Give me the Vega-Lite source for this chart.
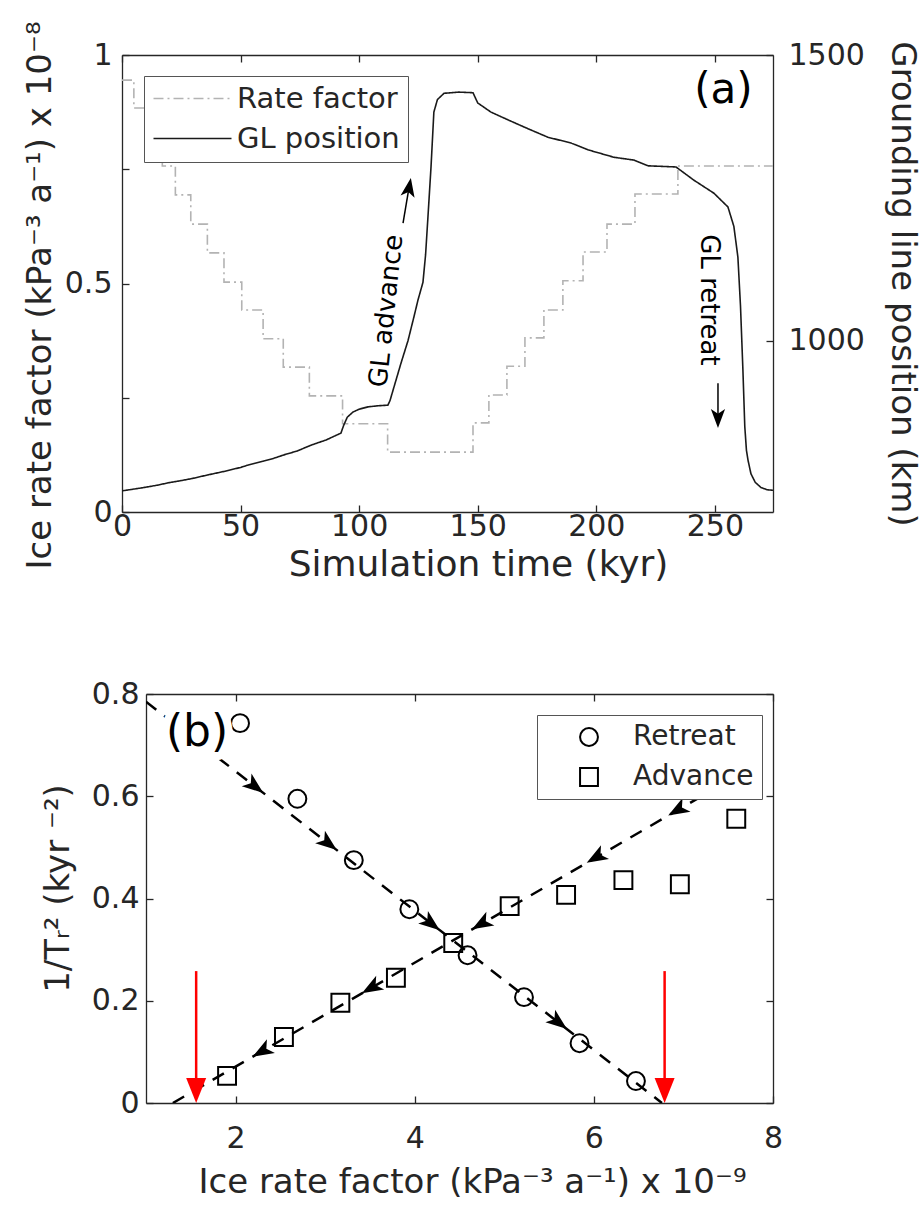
{
  "$schema": "https://vega.github.io/schema/vega-lite/v6.json",
  "background": "white",
  "padding": {"left": 23, "top": 15, "right": 30, "bottom": 2},
  "config": {
    "font": "DejaVu Sans",
    "view": {"stroke": null},
    "axis": {
      "labelFont": "DejaVu Sans", "titleFont": "DejaVu Sans",
      "labelFontSize": 30, "titleFontSize": 34,
      "labelColor": "#262626", "titleColor": "#262626", "titleFontWeight": "normal",
      "grid": false, "domainColor": "#262626", "domainWidth": 1.3,
      "tickColor": "#262626", "tickWidth": 1.3, "tickSize": -7,
      "labelFlush": false, "labelOverlap": false
    },
    "legend": {"labelFont": "DejaVu Sans", "labelColor": "#262626", "labelLimit": 400},
    "text": {"font": "DejaVu Sans"}
  },
  "datasets": {
    "rate": [
      {"series": "Rate factor", "t": 0, "rate": 0.945},
      {"series": "Rate factor", "t": 5, "rate": 0.884},
      {"series": "Rate factor", "t": 11, "rate": 0.820},
      {"series": "Rate factor", "t": 17, "rate": 0.757},
      {"series": "Rate factor", "t": 22.5, "rate": 0.694},
      {"series": "Rate factor", "t": 29, "rate": 0.630},
      {"series": "Rate factor", "t": 36, "rate": 0.567},
      {"series": "Rate factor", "t": 43, "rate": 0.503},
      {"series": "Rate factor", "t": 50.5, "rate": 0.442},
      {"series": "Rate factor", "t": 59.5, "rate": 0.379},
      {"series": "Rate factor", "t": 68, "rate": 0.317},
      {"series": "Rate factor", "t": 79, "rate": 0.254},
      {"series": "Rate factor", "t": 93, "rate": 0.193},
      {"series": "Rate factor", "t": 112, "rate": 0.131},
      {"series": "Rate factor", "t": 148, "rate": 0.195},
      {"series": "Rate factor", "t": 154.7, "rate": 0.256},
      {"series": "Rate factor", "t": 162.3, "rate": 0.319},
      {"series": "Rate factor", "t": 169.9, "rate": 0.381},
      {"series": "Rate factor", "t": 177.9, "rate": 0.442},
      {"series": "Rate factor", "t": 185.9, "rate": 0.506},
      {"series": "Rate factor", "t": 194.4, "rate": 0.569},
      {"series": "Rate factor", "t": 204.5, "rate": 0.630},
      {"series": "Rate factor", "t": 216.3, "rate": 0.696},
      {"series": "Rate factor", "t": 234.4, "rate": 0.757},
      {"series": "Rate factor", "t": 274.5, "rate": 0.757}
    ],
    "gl": [
      {"series": "GL position", "t": 0, "km": 737},
      {"series": "GL position", "t": 8, "km": 742},
      {"series": "GL position", "t": 15, "km": 747},
      {"series": "GL position", "t": 19.4, "km": 751},
      {"series": "GL position", "t": 25, "km": 755},
      {"series": "GL position", "t": 30, "km": 759},
      {"series": "GL position", "t": 36.3, "km": 765},
      {"series": "GL position", "t": 43, "km": 771},
      {"series": "GL position", "t": 50, "km": 778},
      {"series": "GL position", "t": 53, "km": 782},
      {"series": "GL position", "t": 59.5, "km": 789},
      {"series": "GL position", "t": 64, "km": 794},
      {"series": "GL position", "t": 68.3, "km": 800},
      {"series": "GL position", "t": 74, "km": 807},
      {"series": "GL position", "t": 79.7, "km": 817},
      {"series": "GL position", "t": 86, "km": 826},
      {"series": "GL position", "t": 92.3, "km": 838},
      {"series": "GL position", "t": 93.5, "km": 852},
      {"series": "GL position", "t": 95, "km": 866},
      {"series": "GL position", "t": 97.4, "km": 875},
      {"series": "GL position", "t": 100, "km": 880},
      {"series": "GL position", "t": 103.7, "km": 884},
      {"series": "GL position", "t": 108, "km": 886},
      {"series": "GL position", "t": 112.1, "km": 887},
      {"series": "GL position", "t": 113, "km": 895},
      {"series": "GL position", "t": 114.7, "km": 919},
      {"series": "GL position", "t": 117.6, "km": 960},
      {"series": "GL position", "t": 120.6, "km": 1000},
      {"series": "GL position", "t": 123, "km": 1040},
      {"series": "GL position", "t": 124.8, "km": 1071},
      {"series": "GL position", "t": 126.9, "km": 1102},
      {"series": "GL position", "t": 128, "km": 1150},
      {"series": "GL position", "t": 129, "km": 1216},
      {"series": "GL position", "t": 130.3, "km": 1304},
      {"series": "GL position", "t": 131.5, "km": 1400},
      {"series": "GL position", "t": 133, "km": 1422},
      {"series": "GL position", "t": 135.8, "km": 1433},
      {"series": "GL position", "t": 142, "km": 1435},
      {"series": "GL position", "t": 148, "km": 1434},
      {"series": "GL position", "t": 150, "km": 1416},
      {"series": "GL position", "t": 155.6, "km": 1400},
      {"series": "GL position", "t": 163, "km": 1386},
      {"series": "GL position", "t": 169.5, "km": 1374},
      {"series": "GL position", "t": 179.6, "km": 1356},
      {"series": "GL position", "t": 189.3, "km": 1346},
      {"series": "GL position", "t": 196.5, "km": 1334},
      {"series": "GL position", "t": 207.4, "km": 1321},
      {"series": "GL position", "t": 215.9, "km": 1316},
      {"series": "GL position", "t": 221.8, "km": 1306},
      {"series": "GL position", "t": 233.6, "km": 1304},
      {"series": "GL position", "t": 241.1, "km": 1281},
      {"series": "GL position", "t": 249.6, "km": 1258},
      {"series": "GL position", "t": 255.5, "km": 1234},
      {"series": "GL position", "t": 258, "km": 1200},
      {"series": "GL position", "t": 259.7, "km": 1146},
      {"series": "GL position", "t": 260.8, "km": 1060},
      {"series": "GL position", "t": 261.8, "km": 950},
      {"series": "GL position", "t": 262.6, "km": 850},
      {"series": "GL position", "t": 263.3, "km": 808},
      {"series": "GL position", "t": 264, "km": 790},
      {"series": "GL position", "t": 265.2, "km": 767},
      {"series": "GL position", "t": 267, "km": 752},
      {"series": "GL position", "t": 269.4, "km": 743},
      {"series": "GL position", "t": 272, "km": 739},
      {"series": "GL position", "t": 274.5, "km": 738}
    ],
    "pts": [
      {"type": "Retreat", "x": 2.05, "y": 0.743},
      {"type": "Retreat", "x": 2.69, "y": 0.595},
      {"type": "Retreat", "x": 3.32, "y": 0.475},
      {"type": "Retreat", "x": 3.94, "y": 0.379},
      {"type": "Retreat", "x": 4.59, "y": 0.289},
      {"type": "Retreat", "x": 5.22, "y": 0.207},
      {"type": "Retreat", "x": 5.84, "y": 0.117},
      {"type": "Retreat", "x": 6.47, "y": 0.043},
      {"type": "Advance", "x": 1.905, "y": 0.053},
      {"type": "Advance", "x": 2.54, "y": 0.129},
      {"type": "Advance", "x": 3.17, "y": 0.196},
      {"type": "Advance", "x": 3.79, "y": 0.245},
      {"type": "Advance", "x": 4.43, "y": 0.313},
      {"type": "Advance", "x": 5.06, "y": 0.385},
      {"type": "Advance", "x": 5.69, "y": 0.407},
      {"type": "Advance", "x": 6.33, "y": 0.436},
      {"type": "Advance", "x": 6.96, "y": 0.428},
      {"type": "Advance", "x": 7.59, "y": 0.556}
    ],
    "fits": [
      {"line": "retreat", "x": 1.0, "y": 0.785},
      {"line": "retreat", "x": 6.76, "y": 0},
      {"line": "advance", "x": 1.30, "y": 0},
      {"line": "advance", "x": 7.96, "y": 0.677}
    ],
    "arrowsR": [
      {"x": 2.31, "y": 0.6065},
      {"x": 3.13, "y": 0.4947},
      {"x": 4.28, "y": 0.338},
      {"x": 5.70, "y": 0.1445}
    ],
    "arrowsA": [
      {"x": 6.83, "y": 0.5624},
      {"x": 5.92, "y": 0.4699},
      {"x": 4.64, "y": 0.3397},
      {"x": 3.41, "y": 0.2146},
      {"x": 2.19, "y": 0.0905}
    ],
    "red": [
      {"x": 1.56, "y1": 0.258, "y2": 0.03, "tip": 0},
      {"x": 6.79, "y1": 0.258, "y2": 0.03, "tip": 0}
    ],
    "notesA": [
      {"key": "a", "t": 253.6, "v": 0.923, "label": "(a)"},
      {"key": "adv", "t": 111.5, "v": 0.44, "label": "GL advance"},
      {"key": "ret", "t": 247.5, "v": 0.464, "label": "GL retreat"}
    ],
    "labelB": [
      {"x": 1.57, "y": 0.724, "label": "(b)"}
    ]
  },
  "vconcat": [
    {
      "width": 651,
      "height": 457,
      "layer": [
        {
          "data": {"name": "rate"},
          "mark": {"type": "line", "interpolate": "step-after", "strokeWidth": 1.6, "clip": true},
          "encoding": {
            "x": {"field": "t", "type": "quantitative", "scale": {"domain": [0, 274.5], "nice": false, "zero": false},
              "axis": {"orient": "bottom", "values": [0, 50, 100, 150, 200, 250], "format": "d", "title": "Simulation time (kyr)", "titleFontSize": 36, "titleX": 356, "labelPadding": 6, "titlePadding": 6}},
            "y": {"field": "rate", "type": "quantitative", "scale": {"domain": [0, 1], "nice": false},
              "axis": {"orient": "left", "values": [0, 0.25, 0.5, 0.75, 1], "format": "~g", "labelExpr": "datum.value == 0.25 || datum.value == 0.75 ? '' : datum.label", "title": "Ice rate factor (kPa⁻³ a⁻¹)  x 10⁻⁸", "labelPadding": 17, "titlePadding": 7, "titleY": 240}},
            "color": {"field": "series", "type": "nominal", "scale": {"domain": ["Rate factor", "GL position"], "range": ["#b3b3b3", "#1a1a1a"]},
              "legend": {"title": null, "orient": "none", "legendX": 22, "legendY": 21, "symbolType": "M-3,0L3,0", "symbolSize": 676, "symbolStrokeWidth": 1.5, "symbolOffset": 26, "labelFontSize": 29, "labelOffset": 30, "labelLimit": 400, "padding": 8, "rowPadding": 10, "strokeColor": "#555555", "fillColor": "white"}},
            "strokeDash": {"field": "series", "type": "nominal", "scale": {"domain": ["Rate factor", "GL position"], "range": [[10, 4, 2, 4], [1, 0]]},
              "legend": {"title": null, "orient": "none", "legendX": 22, "legendY": 21, "symbolType": "M-3,0L3,0", "symbolSize": 676, "symbolStrokeWidth": 1.5, "symbolOffset": 26, "labelFontSize": 29, "labelOffset": 30, "labelLimit": 400, "padding": 8, "rowPadding": 10, "strokeColor": "#555555", "fillColor": "white"}}
          }
        },
        {
          "data": {"name": "gl"},
          "mark": {"type": "line", "strokeWidth": 1.6, "clip": true},
          "encoding": {
            "x": {"field": "t", "type": "quantitative", "scale": {"domain": [0, 274.5], "nice": false, "zero": false},
              "axis": {"orient": "top", "values": [0, 50, 100, 150, 200, 250], "labels": false, "title": null}},
            "y": {"field": "km", "type": "quantitative", "scale": {"domain": [700, 1500], "nice": false, "zero": false},
              "axis": {"orient": "right", "values": [1000, 1500], "format": "d", "title": "Grounding line position (km)", "titleFontSize": 34, "labelPadding": 22, "titlePadding": 20}},
            "color": {"field": "series", "type": "nominal", "scale": {"domain": ["Rate factor", "GL position"], "range": ["#b3b3b3", "#1a1a1a"]},
              "legend": {"title": null, "orient": "none", "legendX": 22, "legendY": 21, "symbolType": "M-3,0L3,0", "symbolSize": 676, "symbolStrokeWidth": 1.5, "symbolOffset": 26, "labelFontSize": 29, "labelOffset": 30, "labelLimit": 400, "padding": 8, "rowPadding": 10, "strokeColor": "#555555", "fillColor": "white"}},
            "strokeDash": {"field": "series", "type": "nominal", "scale": {"domain": ["Rate factor", "GL position"], "range": [[10, 4, 2, 4], [1, 0]]},
              "legend": {"title": null, "orient": "none", "legendX": 22, "legendY": 21, "symbolType": "M-3,0L3,0", "symbolSize": 676, "symbolStrokeWidth": 1.5, "symbolOffset": 26, "labelFontSize": 29, "labelOffset": 30, "labelLimit": 400, "padding": 8, "rowPadding": 10, "strokeColor": "#555555", "fillColor": "white"}}
          }
        },
        {
          "data": {"name": "notesA"},
          "transform": [{"filter": "datum.key == 'a'"}],
          "mark": {"type": "text", "fontSize": 42, "align": "center", "baseline": "middle", "color": "#000000"},
          "encoding": {
            "x": {"field": "t", "type": "quantitative", "axis": null},
            "y": {"field": "v", "type": "quantitative", "scale": {"domain": [0, 1], "nice": false}, "axis": null},
            "text": {"field": "label"}
          }
        },
        {
          "data": {"name": "notesA"},
          "transform": [{"filter": "datum.key == 'adv'"}],
          "mark": {"type": "text", "fontSize": 26, "align": "center", "baseline": "middle", "angle": -84, "color": "#000000"},
          "encoding": {
            "x": {"field": "t", "type": "quantitative", "axis": null},
            "y": {"field": "v", "type": "quantitative", "scale": {"domain": [0, 1], "nice": false}, "axis": null},
            "text": {"field": "label"}
          }
        },
        {
          "data": {"name": "notesA"},
          "transform": [{"filter": "datum.key == 'ret'"}],
          "mark": {"type": "text", "fontSize": 26, "align": "center", "baseline": "middle", "angle": 90, "color": "#000000"},
          "encoding": {
            "x": {"field": "t", "type": "quantitative", "axis": null},
            "y": {"field": "v", "type": "quantitative", "scale": {"domain": [0, 1], "nice": false}, "axis": null},
            "text": {"field": "label"}
          }
        },
        {
          "data": {"values": [{"t1": 118.5, "v1": 0.632, "t2": 121.0, "v2": 0.709}, {"t1": 251.3, "v1": 0.282, "t2": 251.3, "v2": 0.206}]},
          "mark": {"type": "rule", "strokeWidth": 1.5, "color": "#000000"},
          "encoding": {
            "x": {"field": "t1", "type": "quantitative", "axis": null},
            "y": {"field": "v1", "type": "quantitative", "scale": {"domain": [0, 1], "nice": false}, "axis": null},
            "x2": {"field": "t2"},
            "y2": {"field": "v2"}
          }
        },
        {
          "data": {"values": [{"t": 121.8, "v": 0.731}]},
          "mark": {"type": "point", "shape": "M0,0L0.75,2L0,1.5L-0.75,2Z", "filled": true, "size": 360, "angle": 10, "color": "#000000", "opacity": 1},
          "encoding": {
            "x": {"field": "t", "type": "quantitative", "axis": null},
            "y": {"field": "v", "type": "quantitative", "scale": {"domain": [0, 1], "nice": false}, "axis": null}
          }
        },
        {
          "data": {"values": [{"t": 251.3, "v": 0.184}]},
          "mark": {"type": "point", "shape": "M0,0L0.75,2L0,1.5L-0.75,2Z", "filled": true, "size": 360, "angle": 180, "color": "#000000", "opacity": 1},
          "encoding": {
            "x": {"field": "t", "type": "quantitative", "axis": null},
            "y": {"field": "v", "type": "quantitative", "scale": {"domain": [0, 1], "nice": false}, "axis": null}
          }
        }
      ],
      "resolve": {"scale": {"y": "independent"}}
    },
    {
      "hconcat": [
        {
          "width": 24,
          "height": 20,
          "data": {"values": []},
          "mark": {"type": "point", "opacity": 0},
          "encoding": {}
        },
        {
          "width": 627,
          "height": 409,
          "layer": [
            {
              "data": {"name": "fits"},
              "mark": {"type": "line", "strokeDash": [13, 10], "strokeWidth": 2.5, "color": "#000000", "clip": true},
              "encoding": {
                "x": {"field": "x", "type": "quantitative", "scale": {"domain": [1, 8], "nice": false, "zero": false}, "axis": null},
                "y": {"field": "y", "type": "quantitative", "scale": {"domain": [0, 0.8], "nice": false}, "axis": null},
                "detail": {"field": "line"}
              }
            },
            {
              "data": {"name": "pts"},
              "mark": {"type": "point", "filled": false, "strokeWidth": 2, "size": 320, "color": "#000000", "opacity": 1},
              "encoding": {
                "x": {"field": "x", "type": "quantitative", "scale": {"domain": [1, 8], "nice": false, "zero": false},
                  "axis": {"orient": "bottom", "values": [2, 4, 6, 8], "format": "d", "title": "Ice rate factor (kPa⁻³ a⁻¹)  x 10⁻⁹", "labelPadding": 27, "titlePadding": 12, "titleX": 326}},
                "y": {"field": "y", "type": "quantitative", "scale": {"domain": [0, 0.8], "nice": false},
                  "axis": {"orient": "left", "values": [0, 0.2, 0.4, 0.6, 0.8], "format": "~g", "title": "1/Tᵣ² (kyr ⁻²)", "labelPadding": 14, "titlePadding": 16, "titleY": 194}},
                "shape": {"field": "type", "type": "nominal", "scale": {"domain": ["Retreat", "Advance"], "range": ["M-4,0M1,0A1,1,0,1,1,-1,0A1,1,0,1,1,1,0Z", "M-4,0M-1,-1L1,-1L1,1L-1,1Z"]},
                  "legend": {"title": null, "orient": "none", "legendX": 391, "legendY": 21, "labelFontSize": 28, "symbolSize": 320, "symbolStrokeWidth": 2, "symbolStrokeColor": "#000000", "symbolOffset": 30, "labelOffset": 30, "padding": 8, "rowPadding": 12, "strokeColor": "#555555", "fillColor": "white"}}
              }
            },
            {
              "data": {"name": "arrowsR"},
              "mark": {"type": "point", "shape": "M0,0L0.75,2L0,1.5L-0.75,2Z", "filled": true, "size": 450, "angle": 127.9, "color": "#000000", "opacity": 1},
              "encoding": {
                "x": {"field": "x", "type": "quantitative", "axis": null},
                "y": {"field": "y", "type": "quantitative", "axis": null}
              }
            },
            {
              "data": {"name": "arrowsA"},
              "mark": {"type": "point", "shape": "M0,0L0.75,2L0,1.5L-0.75,2Z", "filled": true, "size": 450, "angle": 239.8, "color": "#000000", "opacity": 1},
              "encoding": {
                "x": {"field": "x", "type": "quantitative", "axis": null},
                "y": {"field": "y", "type": "quantitative", "axis": null}
              }
            },
            {
              "data": {"name": "red"},
              "mark": {"type": "rule", "strokeWidth": 2.5, "color": "#ff0000"},
              "encoding": {
                "x": {"field": "x", "type": "quantitative", "axis": {"orient": "top", "values": [2, 4, 6, 8], "labels": false, "title": null}},
                "y": {"field": "y1", "type": "quantitative", "axis": {"orient": "right", "values": [0, 0.2, 0.4, 0.6, 0.8], "labels": false, "title": null}},
                "y2": {"field": "y2"}
              }
            },
            {
              "data": {"name": "red"},
              "mark": {"type": "point", "shape": "M0,0L0.8,2L-0.8,2Z", "filled": true, "size": 625, "angle": 180, "color": "#ff0000", "opacity": 1},
              "encoding": {
                "x": {"field": "x", "type": "quantitative", "axis": null},
                "y": {"field": "tip", "type": "quantitative", "axis": null}
              }
            },
            {
              "data": {"name": "labelB"},
              "mark": {"type": "text", "fontSize": 44, "align": "center", "baseline": "middle", "color": "white", "stroke": "white", "strokeWidth": 16, "strokeJoin": "round"},
              "encoding": {
                "x": {"field": "x", "type": "quantitative", "axis": null},
                "y": {"field": "y", "type": "quantitative", "axis": null},
                "text": {"field": "label"}
              }
            },
            {
              "data": {"name": "labelB"},
              "mark": {"type": "text", "fontSize": 44, "align": "center", "baseline": "middle", "color": "#000000"},
              "encoding": {
                "x": {"field": "x", "type": "quantitative", "axis": null},
                "y": {"field": "y", "type": "quantitative", "axis": null},
                "text": {"field": "label"}
              }
            }
          ]
        }
      ],
      "spacing": 0,
      "bounds": "flush",
      "resolve": {"scale": {"shape": "independent"}, "legend": {"shape": "independent"}}
    }
  ],
  "spacing": 182,
  "bounds": "flush",
  "resolve": {"scale": {"color": "independent", "strokeDash": "independent", "shape": "independent"}, "legend": {"color": "independent", "strokeDash": "independent", "shape": "independent"}}
}
